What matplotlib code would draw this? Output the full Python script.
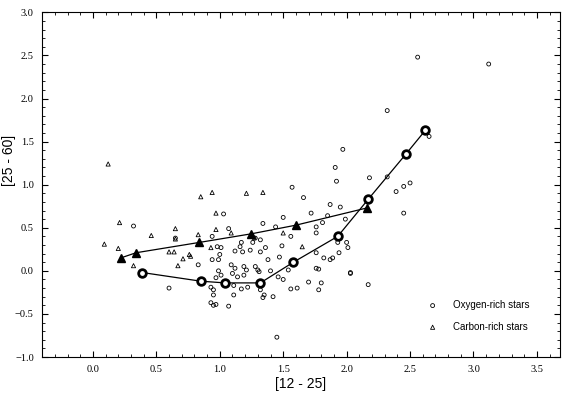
import numpy as np
from matplotlib import pyplot as plt
from matplotlib.ticker import MultipleLocator

# oxygen-rich stars (open circles)
oxy_x = [3.12, 2.56, 2.32, 1.97, 1.91, 1.92, 2.18, 2.32, 2.39, 2.45, 2.50, 2.65, 2.45,
         1.95, 1.99, 1.93, 2.01, 2.00, 1.94, 1.89, 2.03, 1.87,
         1.57, 1.66, 1.72, 1.50, 1.81, 1.85, 1.44, 1.34, 1.76, 1.76, 1.56, 1.32, 1.27,
         1.49, 1.36, 1.32, 1.76, 1.47, 1.38, 1.82, 1.87, 1.30, 1.40, 1.54, 1.76, 1.78,
         1.46, 1.50, 1.70, 1.80, 1.56, 1.61, 1.78, 1.32, 1.35, 1.42, 1.34,
         1.03, 0.94, 1.07, 1.17, 1.16, 0.98, 1.01, 1.26, 1.28, 1.24, 1.18, 0.94, 1.00,
         0.99, 0.83, 1.09, 1.12, 1.19, 1.28, 0.99, 1.01, 1.10, 1.14, 1.19, 1.31, 0.97,
         0.93, 0.95, 0.95, 1.11, 1.17, 1.11, 1.22, 0.95, 1.07, 0.93, 0.97,
         0.32, 0.60, 0.65, 1.45, 2.17, 2.03, 1.12, 1.21]
oxy_y = [2.40, 2.48, 1.86, 1.41, 1.20, 1.04, 1.08, 1.09, 0.92, 0.98, 1.02, 1.56, 0.67,
         0.74, 0.60, 0.33, 0.27, 0.33, 0.21, 0.15, -0.03, 0.77,
         0.97, 0.85, 0.67, 0.62, 0.56, 0.64, 0.51, 0.55, 0.51, 0.44, 0.40, 0.36, 0.38,
         0.29, 0.27, 0.22, 0.21, 0.16, 0.13, 0.15, 0.13, 0.01, 0.00, 0.01, 0.03, 0.02,
         -0.07, -0.10, -0.13, -0.14, -0.21, -0.20, -0.22, -0.22, -0.28, -0.30, -0.31,
         0.66, 0.40, 0.49, 0.33, 0.28, 0.28, 0.27, 0.33, 0.38, 0.24, 0.22, 0.13, 0.19,
         0.13, 0.07, 0.07, 0.03, 0.05, 0.05, 0.00, -0.05, -0.03, -0.07, -0.05, -0.01, -0.08,
         -0.19, -0.22, -0.28, -0.17, -0.21, -0.28, -0.19, -0.40, -0.41, -0.37, -0.39,
         0.52, -0.20, 0.38, -0.77, -0.16, -0.02, 0.23, 0.01]

# carbon-rich stars (open triangles)
carb_x = [0.12, 0.85, 0.94, 1.21, 1.34, 0.97, 0.65, 0.65, 0.83, 1.09, 0.76, 0.67,
          0.21, 0.46, 0.09, 0.20, 0.60, 0.64, 0.32, 0.71, 0.77, 0.93, 1.50, 1.65, 0.97]
carb_y = [1.24, 0.86, 0.91, 0.90, 0.91, 0.67, 0.49, 0.37, 0.42, 0.44, 0.19, 0.06,
          0.56, 0.41, 0.31, 0.26, 0.22, 0.22, 0.06, 0.14, 0.17, 0.27, 0.44, 0.28, 0.48]

# model tracks
oxy_track_x = [0.39, 0.85, 1.04, 1.32, 1.58, 1.93, 2.17, 2.47, 2.62]
oxy_track_y = [-0.02, -0.12, -0.14, -0.14, 0.10, 0.40, 0.83, 1.36, 1.63]
carb_track_x = [0.22, 0.34, 0.84, 1.25, 1.60, 2.16]
carb_track_y = [0.15, 0.21, 0.33, 0.43, 0.53, 0.73]

fig = plt.figure(figsize=(5.7, 3.98), dpi=100)
ax = fig.add_axes([0.074, 0.103, 0.908, 0.866])

ax.scatter(oxy_x, oxy_y, s=8, facecolors='none', edgecolors='black', linewidths=0.6,
           marker='o', label='Oxygen-rich stars')
ax.scatter(carb_x, carb_y, s=9, facecolors='none', edgecolors='black', linewidths=0.6,
           marker='^', label='Carbon-rich stars')

ax.plot(oxy_track_x, oxy_track_y, color='black', lw=0.9, marker='o', ms=5.5,
        mfc='white', mec='black', mew=2.0)
ax.plot(carb_track_x, carb_track_y, color='black', lw=0.9, marker='^', ms=5.8,
        mfc='black', mec='black')

ax.set_xlim(-0.4, 3.68)
ax.set_ylim(-1.0, 3.0)
ax.xaxis.set_major_locator(MultipleLocator(0.5))
ax.xaxis.set_minor_locator(MultipleLocator(0.1))
ax.yaxis.set_major_locator(MultipleLocator(0.5))
ax.yaxis.set_minor_locator(MultipleLocator(0.1))
ax.tick_params(which='both', direction='in', top=True, right=True)
ax.tick_params(which='major', length=4, width=0.8, labelsize=7.5, pad=6)
ax.tick_params(which='minor', length=2.5, width=0.6)
for lab in ax.get_xticklabels() + ax.get_yticklabels():
    lab.set_family('Liberation Serif')

ax.set_xlabel('[12 - 25]', fontsize=10, family='Liberation Sans', labelpad=2)
ax.set_ylabel('[25 - 60]', fontsize=10, family='Liberation Sans')
ax.yaxis.set_label_coords(-0.05, 0.57)

ax.legend(loc='upper left', bbox_to_anchor=(0.745, 0.165), frameon=False,
          borderaxespad=0, borderpad=0, handlelength=1.0, handletextpad=1.6,
          labelspacing=1.2, scatterpoints=1, prop={'family': 'Liberation Sans', 'size': 7})

plt.savefig('out.png')
